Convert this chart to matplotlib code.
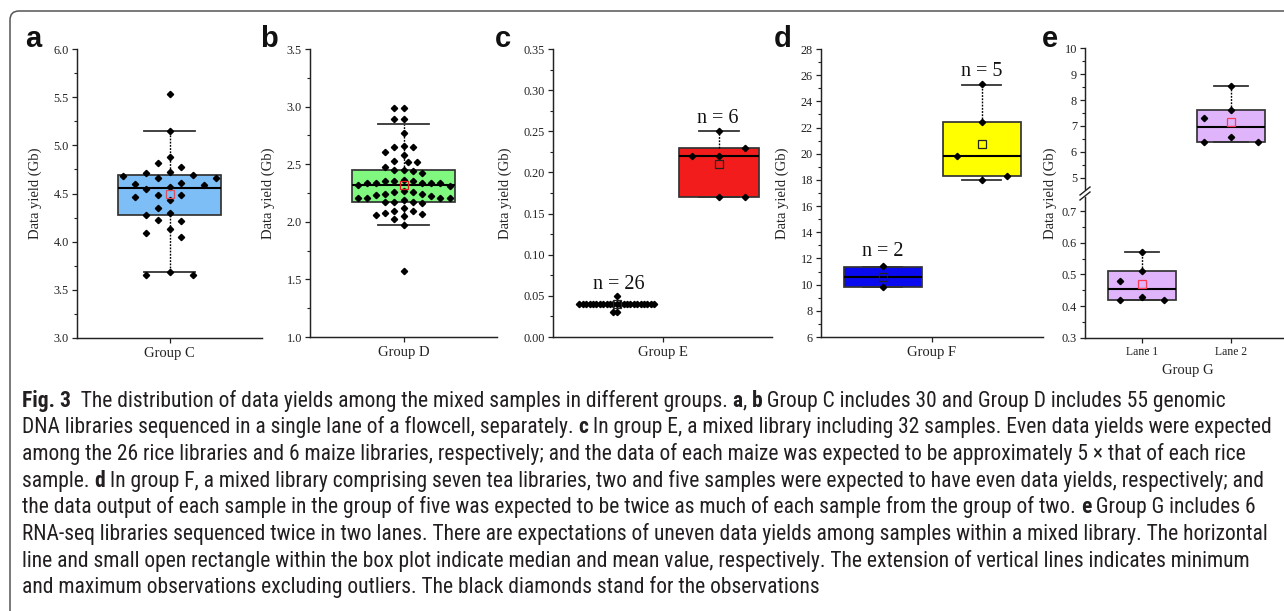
import numpy as np
import matplotlib
matplotlib.use("Agg")
import matplotlib.pyplot as plt
from matplotlib.patches import FancyBboxPatch
from matplotlib.transforms import IdentityTransform
from matplotlib.ticker import MultipleLocator, FormatStrFormatter
from matplotlib.lines import Line2D
from matplotlib import font_manager as fm

# ---------------- data ----------------
group_c = [5.53, 5.15, 4.88, 4.82, 4.77, 4.72, 4.71, 4.69, 4.68, 4.66, 4.66, 4.61,
           4.60, 4.59, 4.57, 4.55, 4.48, 4.48, 4.46, 4.43, 4.35, 4.30, 4.28, 4.22,
           4.21, 4.13, 4.09, 4.05, 3.68, 3.65, 3.65]
box_c = dict(q1=4.28, med=4.56, q3=4.69, whislo=3.68, whishi=5.15, mean=4.50)

group_d = [2.99, 2.99, 2.89, 2.89, 2.77, 2.66, 2.65, 2.65, 2.61, 2.58, 2.53, 2.52,
           2.52, 2.48, 2.45, 2.45, 2.44, 2.42, 2.36, 2.35, 2.35, 2.35, 2.34, 2.34,
           2.34, 2.34, 2.34, 2.32, 2.31, 2.27, 2.26, 2.26, 2.24, 2.24, 2.23, 2.22,
           2.21, 2.21, 2.21, 2.21, 2.19, 2.17, 2.17, 2.17, 2.16, 2.12, 2.09, 2.09,
           2.08, 2.07, 2.06, 2.05, 2.02, 1.97, 1.57]
box_d = dict(q1=2.17, med=2.32, q3=2.45, whislo=1.97, whishi=2.85, mean=2.32)

rice = [0.05, 0.04, 0.04, 0.04, 0.04, 0.04, 0.04, 0.04, 0.04, 0.04, 0.04, 0.04,
        0.04, 0.04, 0.04, 0.04, 0.04, 0.04, 0.04, 0.04, 0.04, 0.04, 0.04, 0.04,
        0.03, 0.03]
box_rice = dict(q1=0.04, med=0.04, q3=0.04, whislo=0.04, whishi=0.04, mean=0.04)
maize = [0.25, 0.23, 0.22, 0.22, 0.17, 0.17]
box_maize = dict(q1=0.17, med=0.22, q3=0.23, whislo=0.17, whishi=0.25, mean=0.21)

tea2 = [11.4, 9.8]
box_tea2 = dict(q1=9.82, med=10.61, q3=11.37, whislo=9.82, whishi=11.37, mean=10.6)
tea5 = [25.3, 22.45, 19.8, 18.3, 18.0]
box_tea5 = dict(q1=18.27, med=19.8, q3=22.45, whislo=18.0, whishi=25.28, mean=20.77)

lane1 = [0.42, 0.51, 0.48, 0.43, 0.42, 0.57]
box_lane1 = dict(q1=0.42, med=0.455, q3=0.51, whislo=0.42, whishi=0.57, mean=0.471)
lane2 = [7.60, 7.32, 8.54, 6.58, 6.39, 6.38]
box_lane2 = dict(q1=6.39, med=6.96, q3=7.60, whislo=6.38, whishi=8.54, mean=7.15)

group_labels = ["Group C", "Group D", "Group E", "Group F"]
lane_labels = ["Lane 1", "Lane 2"]
n_labels_e = ["n = 26", "n = 6"]
n_labels_f = ["n = 2", "n = 5"]

caption_lines = [
    [("Fig. 3", 1), ("  The distribution of data yields among the mixed samples in different groups. ", 0),
     ("a", 1), (", ", 0), ("b", 1), (" Group C includes 30 and Group D includes 55 genomic", 0)],
    [("DNA libraries sequenced in a single lane of a flowcell, separately. ", 0), ("c", 1),
     (" In group E, a mixed library including 32 samples. Even data yields were expected", 0)],
    [("among the 26 rice libraries and 6 maize libraries, respectively; and the data of each maize was expected to be approximately 5 \u00d7 that of each rice", 0)],
    [("sample. ", 0), ("d", 1),
     (" In group F, a mixed library comprising seven tea libraries, two and five samples were expected to have even data yields, respectively; and", 0)],
    [("the data output of each sample in the group of five was expected to be twice as much of each sample from the group of two. ", 0),
     ("e", 1), (" Group G includes 6", 0)],
    [("RNA-seq libraries sequenced twice in two lanes. There are expectations of uneven data yields among samples within a mixed library. The horizontal", 0)],
    [("line and small open rectangle within the box plot indicate median and mean value, respectively. The extension of vertical lines indicates minimum", 0)],
    [("and maximum observations excluding outliers. The black diamonds stand for the observations", 0)],
]

# ---------------- figure ----------------
W, H = 1284, 611
plt.rcParams["font.family"] = ["Liberation Serif", "DejaVu Serif"]
fig = plt.figure(figsize=(W / 100, H / 100), dpi=100)
fig.patch.set_facecolor("white")
INK = "#222222"


def add_ax(l, t, r, b):
    return fig.add_axes([l / W, 1 - b / H, (r - l) / W, (b - t) / H])


def style(ax, ylim, major, minor, fmt, xlim=(0, 1)):
    ax.set_xlim(*xlim)
    ax.set_ylim(*ylim)
    for s in ("top", "right"):
        ax.spines[s].set_visible(False)
    for s in ("left", "bottom"):
        ax.spines[s].set_linewidth(1.05)
        ax.spines[s].set_color(INK)
    ax.yaxis.set_major_locator(MultipleLocator(major))
    ax.yaxis.set_minor_locator(MultipleLocator(minor))
    ax.yaxis.set_major_formatter(FormatStrFormatter(fmt))
    ax.tick_params(axis="y", which="major", direction="out", length=3.8, width=0.9,
                   labelsize=8.8, pad=2, colors=INK, labelcolor=INK)
    ax.tick_params(axis="y", which="minor", direction="out", length=2.2, width=0.8, colors=INK)
    ax.tick_params(axis="x", which="major", direction="out", length=3.8, width=0.9,
                   labelsize=10.5, pad=2.5, colors=INK, labelcolor=INK)
    ax.set_facecolor("none")


def draw_box(ax, stats, pos, width, face, mean_color):
    st = dict(stats)
    st["fliers"] = []
    ax.bxp([st], positions=[pos], widths=[width], capwidths=[width / 2],
           patch_artist=True, showmeans=True, showfliers=False, manage_ticks=False,
           boxprops=dict(facecolor=face, edgecolor="#333333", linewidth=1.25),
           medianprops=dict(color="black", linewidth=1.5),
           whiskerprops=dict(color="black", linestyle=(0, (1.3, 1.0)), linewidth=1.0),
           capprops=dict(color="#333333", linewidth=1.3),
           meanprops=dict(marker="s", markerfacecolor="none", markeredgecolor=mean_color,
                          markersize=5.2, markeredgewidth=0.9, zorder=6))


def swarm(ax, xc, vals, step_px, dmin_px, max_k=4, ascending=False, first=-1):
    """Grid swarm: each observation goes to the nearest free column slot (|slot| <= max_k)."""
    vals = np.asarray(vals, float)
    T = ax.transData
    pts = T.transform(np.column_stack([np.full(len(vals), xc), vals]))
    x0, ypx = pts[0, 0], pts[:, 1]
    idx = np.argsort(vals if ascending else -vals, kind="stable")
    seq = [0]
    for k in range(1, max_k + 1):
        seq += [first * k, -first * k]
    placed = []
    offs = np.zeros(len(vals))
    for i in idx:
        best, best_d = None, -1.0
        for c in seq:
            xo = c * step_px
            d = min([np.hypot(xo - px, ypx[i] - py) for px, py in placed] or [1e9])
            if d >= dmin_px:
                best = xo
                break
            if d > best_d:
                best, best_d = xo, d
        placed.append((best, ypx[i]))
        offs[i] = best
    xs = T.inverted().transform(np.column_stack([x0 + offs, ypx]))[:, 0]
    ax.plot(xs, vals, linestyle="none", marker="D", color="black", markersize=3.2,
            zorder=5, clip_on=False)


# ---- panel a ----
ax_a = add_ax(77, 49, 262, 338)
style(ax_a, (3.0, 6.0), 0.5, 0.25, "%.1f")
draw_box(ax_a, box_c, 0.5, 0.562, "#7DBEF7", "#D9505E")
swarm(ax_a, 0.5, group_c, 11.6, 12.5, max_k=4)
ax_a.set_xticks([0.5], [group_labels[0]])
ax_a.set_ylabel("Data yield (Gb)", fontsize=10.5, color=INK)
ax_a.yaxis.set_label_coords(-0.191, 0.5)

# ---- panel b ----
ax_b = add_ax(310, 49, 497, 337)
style(ax_b, (1.0, 3.5), 0.5, 0.25, "%.1f")
draw_box(ax_b, box_d, 0.5, 0.556, "#80F880", "#E02020")
swarm(ax_b, 0.5, group_d, 4.6, 8.0, max_k=10)
ax_b.set_xticks([0.5], [group_labels[1]])
ax_b.set_ylabel("Data yield (Gb)", fontsize=10.5, color=INK)
ax_b.yaxis.set_label_coords(-0.187, 0.5)

# ---- panel c ----
ax_c = add_ax(553, 49, 772, 337)
style(ax_c, (0.0, 0.35), 0.05, 0.025, "%.2f")
draw_box(ax_c, box_rice, 0.291, 0.365, "#F21C1C", "#222222")
draw_box(ax_c, box_maize, 0.757, 0.365, "#F21C1C", "#222222")
swarm(ax_c, 0.291, rice, 3.4, 3.0, max_k=12)
swarm(ax_c, 0.757, maize, 13.3, 22.0, max_k=2, first=1)
ax_c.set_xticks([0.5], [group_labels[2]])
ax_c.set_ylabel("Data yield (Gb)", fontsize=10.5, color=INK)
ax_c.yaxis.set_label_coords(-0.189, 0.5)
ax_c.text(0.300, 0.0632, n_labels_e[0], fontsize=14.5, ha="center", va="center", color="#111111")
ax_c.text(0.752, 0.265, n_labels_e[1], fontsize=14.5, ha="center", va="center", color="#111111")

# ---- panel d ----
ax_d = add_ax(821, 49, 1043, 337)
style(ax_d, (6, 28), 2, 1, "%d")
draw_box(ax_d, box_tea2, 0.278, 0.351, "#0A0AEE", "#222222")
draw_box(ax_d, box_tea5, 0.725, 0.351, "#FFFF00", "#222222")
swarm(ax_d, 0.278, tea2, 25.0, 9.0, max_k=1)
swarm(ax_d, 0.725, tea5, 25.0, 25.0, max_k=1, ascending=True, first=1)
ax_d.set_xticks([0.5], [group_labels[3]])
ax_d.set_ylabel("Data yield (Gb)", fontsize=10.5, color=INK)
ax_d.yaxis.set_label_coords(-0.144, 0.5)
ax_d.text(0.278, 12.51, n_labels_f[0], fontsize=14.5, ha="center", va="center", color="#111111")
ax_d.text(0.724, 26.27, n_labels_f[1], fontsize=14.5, ha="center", va="center", color="#111111")

# ---- panel e (broken axis) ----
exlim = (0.3596, 2.663)
ax_eu = add_ax(1085, 48.3, 1290, 189.3)
ax_el = add_ax(1085, 197, 1290, 337.7)
style(ax_eu, (4.55, 10), 1, 0.5, "%d", xlim=exlim)
style(ax_el, (0.3, 0.745), 0.1, 0.05, "%.1f", xlim=exlim)
ax_eu.spines["bottom"].set_visible(False)
ax_eu.tick_params(axis="x", bottom=False, labelbottom=False)
draw_box(ax_el, box_lane1, 1, 0.753, "#E0B4FA", "#FF3A55")
draw_box(ax_eu, box_lane2, 2, 0.753, "#E0B4FA", "#FF3A55")
swarm(ax_el, 1, lane1, 11.0, 18.0, max_k=3)
swarm(ax_eu, 2, lane2, 13.3, 22.0, max_k=2)
ax_el.set_xticks([1, 2], lane_labels)
ax_el.tick_params(axis="x", labelsize=8.4, pad=2.5)
ax_el.set_xlabel("Group G", fontsize=10.5, color=INK, labelpad=4)
fig.text(1050 / W, 1 - 193 / H, "Data yield (Gb)", rotation=90, fontsize=10.5,
         ha="center", va="center", color=INK)
# break marks on the left spine
bx, by = ax_el.transAxes.transform((0, 1))
for dy in (-1.0, 4.0):
    fig.add_artist(Line2D([bx - 5, bx + 5], [by + dy - 2, by + dy + 6], transform=IdentityTransform(),
                          color=INK, linewidth=1.0))

# ---- panel letters ----
for lab, xp in zip("abcde", (25, 260, 495, 774, 1042)):
    fig.text(xp / W, 1 - 47 / H, lab, fontsize=21, fontweight="bold",
             family=["Liberation Sans", "DejaVu Sans"], ha="left", va="baseline", color="#111111")

# ---- frame ----
frame = FancyBboxPatch((10, -40), 1400, 640, boxstyle="round,pad=0,rounding_size=9",
                       transform=IdentityTransform(), facecolor="none", edgecolor="#555555",
                       linewidth=1.1)
fig.add_artist(frame)

# ---- caption ----
names = {f.name for f in fm.fontManager.ttflist}
cap_font = next((n for n in ["Liberation Sans Narrow", "Roboto Condensed", "Open Sans Condensed",
                             "Noto Sans", "Open Sans", "Liberation Sans"] if n in names), "DejaVu Sans")
renderer = fig.canvas.get_renderer()


def seg_width(s, bold, size):
    t = fig.text(0, 0, "|" + s + "|", fontsize=size, family=[cap_font, "DejaVu Sans"],
                 fontweight="bold" if bold else "normal")
    w1 = t.get_window_extent(renderer).width
    t.set_text("||")
    w0 = t.get_window_extent(renderer).width
    t.remove()
    return w1 - w0


ref_size = 12.0
w_line2 = sum(seg_width(s, b, ref_size) for s, b in caption_lines[1])
cap_size = ref_size * 1252.0 / w_line2
x_start, base0, lead = 22.0, 406.7, 26.65
for li, segs in enumerate(caption_lines):
    x = x_start
    y = H - (base0 + li * lead)
    for s, b in segs:
        fig.text(x / W, y / H, s, fontsize=cap_size, family=[cap_font, "DejaVu Sans"],
                 fontweight="bold" if b else "normal", ha="left", va="baseline", color="#231F20")
        x += seg_width(s, b, cap_size)

fig.savefig("out.png", dpi=100, facecolor="white")
